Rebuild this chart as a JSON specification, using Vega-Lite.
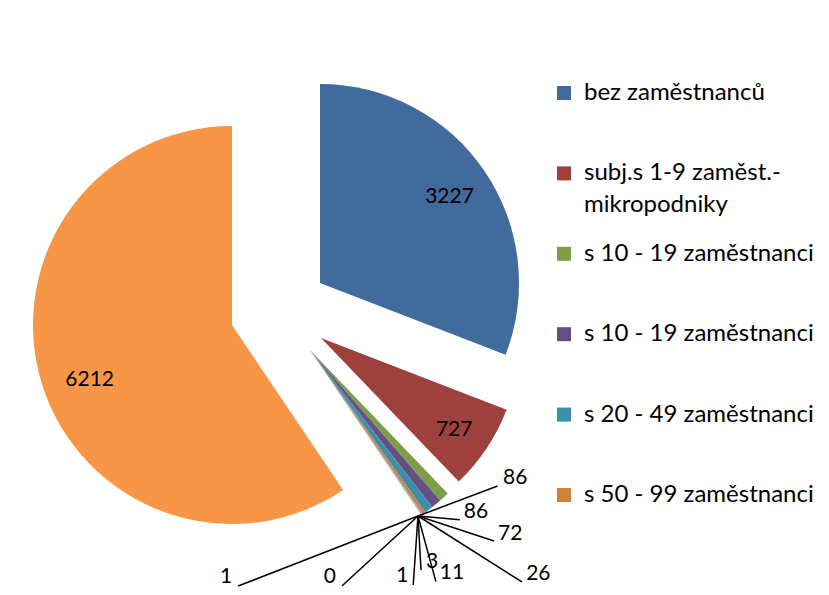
{
  "$schema": "https://vega.github.io/schema/vega-lite/v6.json",
  "width": 500,
  "height": 568,
  "padding": {"left": 30, "top": 27, "right": 299, "bottom": 0},
  "autosize": {"type": "none"},
  "background": "white",
  "config": {"view": {"stroke": null}, "font": "Lato", "style": {"guide-label": {"lineHeight": 32}}},
  "data": {
    "values": [
      {"i": 0, "cat": "bez zaměstnanců", "value": 3227},
      {"i": 1, "cat": "subj.s 1-9 zaměst.-|mikropodniky", "value": 727},
      {"i": 2, "cat": "s 10 - 19 zaměstnanci", "value": 86},
      {"i": 3, "cat": "s 10 - 19 zaměstnanci ", "value": 86},
      {"i": 4, "cat": "s 20 - 49 zaměstnanci", "value": 72},
      {"i": 5, "cat": "s 50 - 99 zaměstnanci", "value": 26},
      {"i": 6, "cat": "s 100 - 199 zaměstnanci", "value": 11},
      {"i": 7, "cat": "s 200 - 249 zaměstnanci", "value": 3},
      {"i": 8, "cat": "s 250 - 499 zaměstnanci", "value": 1},
      {"i": 9, "cat": "s 500 - 999 zaměstnanci", "value": 0},
      {"i": 10, "cat": "s 1000 a více zaměstnanci", "value": 1},
      {"i": 11, "cat": "neuvedeno", "value": 6212}
    ]
  },
  "layer": [
    {
      "transform": [{"stack": "value", "groupby": [], "sort": [{"field": "i", "order": "ascending"}], "as": ["v0", "v1"]}],
      "encoding": {
        "color": {
          "field": "cat",
          "type": "nominal",
          "sort": {"field": "i", "op": "min"},
          "scale": {
            "range": ["#416A9D", "#9E413E", "#7F9C48", "#654F83", "#3B8FA6", "#D1803A", "#8DA9D6", "#D68A88", "#B3CC85", "#A594C3", "#86C6D9", "#F79646"]
          },
          "legend": {
            "orient": "none",
            "legendX": 522,
            "legendY": 54,
            "title": null,
            "values": ["bez zaměstnanců", "subj.s 1-9 zaměst.-|mikropodniky", "s 10 - 19 zaměstnanci", "s 10 - 19 zaměstnanci ", "s 20 - 49 zaměstnanci", "s 50 - 99 zaměstnanci"],
            "symbolType": "square",
            "symbolSize": 196,
            "symbolStrokeWidth": 0,
            "symbolOpacity": 1,
            "labelFont": "Lato",
            "labelFontSize": 24,
            "labelColor": "black",
            "labelOffset": 8,
            "labelLimit": 400,
            "gridAlign": "all",
            "rowPadding": 24.4,
            "labelExpr": "split(datum.label, '|')"
          }
        }
      },
      "layer": [
        {
          "transform": [{"filter": "datum.i == 0"}],
          "mark": {"type": "arc", "outerRadius": 199, "xOffset": 40, "yOffset": -28},
          "encoding": {"theta": {"field": "v0", "type": "quantitative"}, "theta2": {"field": "v1"}}
        },
        {
          "transform": [{"filter": "datum.i == 1"}],
          "mark": {"type": "arc", "outerRadius": 199, "xOffset": 41, "yOffset": 27},
          "encoding": {"theta": {"field": "v0", "type": "quantitative"}, "theta2": {"field": "v1"}}
        },
        {
          "transform": [{"filter": "datum.i >= 2 && datum.i <= 10"}],
          "mark": {"type": "arc", "outerRadius": 199, "xOffset": 30, "yOffset": 39},
          "encoding": {"theta": {"field": "v0", "type": "quantitative"}, "theta2": {"field": "v1"}}
        },
        {
          "transform": [{"filter": "datum.i == 11"}],
          "mark": {"type": "arc", "outerRadius": 199, "xOffset": -48, "yOffset": 14},
          "encoding": {"theta": {"field": "v0", "type": "quantitative"}, "theta2": {"field": "v1"}}
        },
        {
          "mark": {"type": "text", "radius": 157, "xOffset": 40, "yOffset": -28, "dy": 3, "fontSize": 21, "font": "Lato"},
          "encoding": {
            "theta": {"field": "value", "type": "quantitative", "stack": true},
            "order": {"field": "i", "type": "quantitative"},
            "color": {"value": "black"},
            "detail": {"field": "cat", "type": "nominal"},
            "text": {"condition": {"test": "datum.i == 0", "field": "value", "type": "quantitative"}, "value": ""}
          }
        },
        {
          "mark": {"type": "text", "radius": 160, "xOffset": 41, "yOffset": 27, "dy": 3, "fontSize": 21, "font": "Lato"},
          "encoding": {
            "theta": {"field": "value", "type": "quantitative", "stack": true},
            "order": {"field": "i", "type": "quantitative"},
            "color": {"value": "black"},
            "detail": {"field": "cat", "type": "nominal"},
            "text": {"condition": {"test": "datum.i == 1", "field": "value", "type": "quantitative"}, "value": ""}
          }
        },
        {
          "mark": {"type": "text", "radius": 153, "xOffset": -48, "yOffset": 14, "dy": 10, "dx": 4, "fontSize": 21, "font": "Lato"},
          "encoding": {
            "theta": {"field": "value", "type": "quantitative", "stack": true},
            "order": {"field": "i", "type": "quantitative"},
            "color": {"value": "black"},
            "detail": {"field": "cat", "type": "nominal"},
            "text": {"condition": {"test": "datum.i == 11", "field": "value", "type": "quantitative"}, "value": ""}
          }
        }
      ]
    },
    {
      "transform": [{"filter": "datum.i >= 2 && datum.i <= 10"}],
      "mark": {"type": "text", "xOffset": 30, "yOffset": 39, "fontSize": 21, "font": "Lato"},
      "encoding": {
        "theta": {"field": "i", "type": "quantitative", "stack": null, "scale": {"type": "linear", "nice": false, "zero": false, "domain": [2, 3, 4, 5, 6, 7, 8, 9, 10], "range": [2.129, 2.344, 2.314, 2.347, 2.574, 2.62, 2.754, 3.054, 3.496]}},
        "radius": {"field": "i", "type": "quantitative", "scale": {"type": "linear", "nice": false, "zero": false, "domain": [2, 3, 4, 5, 6, 7, 8, 9, 10], "range": [242, 232, 272, 320, 264, 245, 244, 228, 242]}},
        "color": {"value": "black"},
        "text": {"field": "value", "type": "quantitative"}
      }
    },
    {
      "transform": [{"filter": "datum.i >= 2 && datum.i <= 10"}],
      "mark": {"type": "arc", "filled": false, "color": "black", "strokeWidth": 1.5, "innerRadius": 0, "xOffset": 138, "yOffset": 205},
      "encoding": {
        "theta": {"field": "i", "type": "quantitative", "stack": null, "scale": {"type": "linear", "nice": false, "zero": false, "domain": [2, 3, 4, 5, 6, 7, 8, 9, 10], "range": [1.211, 1.658, 1.888, 2.136, 2.875, 3.086, 3.211, 3.969, 4.341]}},
        "theta2": {"field": "i"},
        "radius": {"field": "i", "type": "quantitative", "scale": {"type": "linear", "nice": false, "zero": false, "domain": [2, 3, 4, 5, 6, 7, 8, 9, 10], "range": [85, 42, 80, 123, 68, 54, 69, 103, 193]}}
      }
    }
  ],
  "resolve": {"scale": {"theta": "independent", "radius": "independent"}}
}
